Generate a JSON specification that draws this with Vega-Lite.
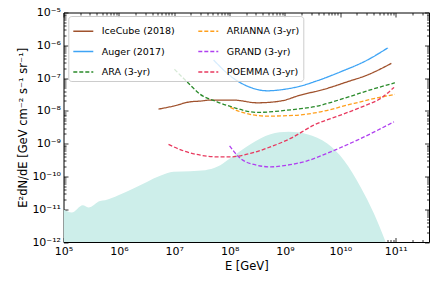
{
  "$schema": "https://vega.github.io/schema/vega-lite/v6.json",
  "width": 365.5,
  "height": 229.5,
  "autosize": {"type": "none"},
  "padding": {"left": 63.5, "top": 12.5, "right": 7, "bottom": 42},
  "config": {
    "font": "DejaVu Sans",
    "view": {"stroke": "black", "strokeWidth": 1},
    "axis": {"domain": false, "grid": false, "tickColor": "black", "tickWidth": 0.8, "labelColor": "black", "labelFontSize": 11, "labelFont": "DejaVu Sans", "titleFont": "DejaVu Sans", "titleFontSize": 11.5, "titleFontWeight": "normal", "titleColor": "black", "labelOverlap": false, "labelFlush": false, "labelBound": false},
    "legend": {"orient": "none", "legendX": 4.8, "legendY": 3.5, "columns": 2, "symbolType": "stroke", "symbolSize": 400, "symbolStrokeWidth": 1.5, "labelFontSize": 9.5, "labelFont": "DejaVu Sans", "labelColor": "black", "columnPadding": 20, "rowPadding": 4.5, "padding": 4, "strokeColor": "#cccccc", "fillColor": "rgba(255,255,255,0.8)", "cornerRadius": 3, "labelOffset": 7.5, "labelLimit": 300}
  },
  "datasets": {
    "sky": [
      {"E": 1e5, "flux": 9.79e-12},
      {"E": 1.41e5, "flux": 7.92e-12},
      {"E": 2.23e5, "flux": 1.32e-11},
      {"E": 2.81e5, "flux": 1.13e-11},
      {"E": 4.58e5, "flux": 1.79e-11},
      {"E": 5.64e5, "flux": 1.88e-11},
      {"E": 9.82e5, "flux": 2.67e-11},
      {"E": 1.83e6, "flux": 4.29e-11},
      {"E": 3.21e6, "flux": 6.82e-11},
      {"E": 5.58e6, "flux": 1.04e-10},
      {"E": 9.70e6, "flux": 1.38e-10},
      {"E": 1.95e7, "flux": 1.45e-10},
      {"E": 3.64e7, "flux": 1.55e-10},
      {"E": 5.93e7, "flux": 1.96e-10},
      {"E": 1.03e8, "flux": 3.61e-10},
      {"E": 2.38e8, "flux": 9.66e-10},
      {"E": 5.47e8, "flux": 1.95e-9},
      {"E": 1.17e9, "flux": 2.29e-9},
      {"E": 2.52e9, "flux": 1.95e-9},
      {"E": 5.81e9, "flux": 1.01e-9},
      {"E": 1.16e10, "flux": 3.13e-10},
      {"E": 2.32e10, "flux": 4.80e-11},
      {"E": 4.05e10, "flux": 7.40e-12},
      {"E": 6.59e10, "flux": 1e-12}
    ],
    "curves": [
      {"detector": "IceCube (2018)", "E": 5.20e6, "flux": 1.13e-8},
      {"detector": "IceCube (2018)", "E": 9.70e6, "flux": 1.40e-8},
      {"detector": "IceCube (2018)", "E": 1.95e7, "flux": 1.89e-8},
      {"detector": "IceCube (2018)", "E": 2.96e7, "flux": 1.99e-8},
      {"detector": "IceCube (2018)", "E": 4.49e7, "flux": 2.13e-8},
      {"detector": "IceCube (2018)", "E": 6.81e7, "flux": 2.13e-8},
      {"detector": "IceCube (2018)", "E": 1.18e8, "flux": 2.13e-8},
      {"detector": "IceCube (2018)", "E": 3.14e8, "flux": 1.76e-8},
      {"detector": "IceCube (2018)", "E": 8.30e8, "flux": 1.99e-8},
      {"detector": "IceCube (2018)", "E": 1.91e9, "flux": 3.03e-8},
      {"detector": "IceCube (2018)", "E": 5.05e9, "flux": 4.52e-8},
      {"detector": "IceCube (2018)", "E": 1.34e10, "flux": 7.71e-8},
      {"detector": "IceCube (2018)", "E": 3.08e10, "flux": 1.24e-7},
      {"detector": "IceCube (2018)", "E": 8.36e10, "flux": 2.81e-7},
      {"detector": "Auger (2017)", "E": 5.14e7, "flux": 3.55e-7},
      {"detector": "Auger (2017)", "E": 1.18e8, "flux": 9.79e-8},
      {"detector": "Auger (2017)", "E": 2.38e8, "flux": 5.20e-8},
      {"detector": "Auger (2017)", "E": 4.76e8, "flux": 4.09e-8},
      {"detector": "Auger (2017)", "E": 9.51e8, "flux": 4.52e-8},
      {"detector": "Auger (2017)", "E": 1.91e9, "flux": 5.70e-8},
      {"detector": "Auger (2017)", "E": 3.83e9, "flux": 8.28e-8},
      {"detector": "Auger (2017)", "E": 1.02e10, "flux": 1.56e-7},
      {"detector": "Auger (2017)", "E": 3.08e10, "flux": 3.55e-7},
      {"detector": "Auger (2017)", "E": 7.26e10, "flux": 8.41e-7},
      {"detector": "ARA (3-yr)", "E": 1.01e7, "flux": 1.85e-7},
      {"detector": "ARA (3-yr)", "E": 1.70e7, "flux": 7.71e-8},
      {"detector": "ARA (3-yr)", "E": 2.96e7, "flux": 3.18e-8},
      {"detector": "ARA (3-yr)", "E": 5.93e7, "flux": 1.89e-8},
      {"detector": "ARA (3-yr)", "E": 1.18e8, "flux": 1.27e-8},
      {"detector": "ARA (3-yr)", "E": 2.38e8, "flux": 9.35e-9},
      {"detector": "ARA (3-yr)", "E": 3.14e8, "flux": 8.97e-9},
      {"detector": "ARA (3-yr)", "E": 1.10e9, "flux": 1.05e-8},
      {"detector": "ARA (3-yr)", "E": 3.83e9, "flux": 1.40e-8},
      {"detector": "ARA (3-yr)", "E": 1.16e10, "flux": 2.40e-8},
      {"detector": "ARA (3-yr)", "E": 3.08e10, "flux": 4.09e-8},
      {"detector": "ARA (3-yr)", "E": 9.70e10, "flux": 7.18e-8},
      {"detector": "ARIANNA (3-yr)", "E": 1.03e8, "flux": 1.27e-8},
      {"detector": "ARIANNA (3-yr)", "E": 1.57e8, "flux": 9.35e-9},
      {"detector": "ARIANNA (3-yr)", "E": 4.76e8, "flux": 6.92e-9},
      {"detector": "ARIANNA (3-yr)", "E": 1.44e9, "flux": 7.26e-9},
      {"detector": "ARIANNA (3-yr)", "E": 4.40e9, "flux": 9.35e-9},
      {"detector": "ARIANNA (3-yr)", "E": 1.34e10, "flux": 1.50e-8},
      {"detector": "ARIANNA (3-yr)", "E": 3.52e10, "flux": 2.24e-8},
      {"detector": "ARIANNA (3-yr)", "E": 9.70e10, "flux": 3.18e-8},
      {"detector": "GRAND (3-yr)", "E": 1.00e8, "flux": 8.57e-10},
      {"detector": "GRAND (3-yr)", "E": 1.57e8, "flux": 3.53e-10},
      {"detector": "GRAND (3-yr)", "E": 2.72e8, "flux": 2.32e-10},
      {"detector": "GRAND (3-yr)", "E": 5.47e8, "flux": 1.96e-10},
      {"detector": "GRAND (3-yr)", "E": 1.10e9, "flux": 2.21e-10},
      {"detector": "GRAND (3-yr)", "E": 2.52e9, "flux": 2.99e-10},
      {"detector": "GRAND (3-yr)", "E": 6.67e9, "flux": 5.62e-10},
      {"detector": "GRAND (3-yr)", "E": 2.03e10, "flux": 1.28e-9},
      {"detector": "GRAND (3-yr)", "E": 9.31e10, "flux": 4.63e-9},
      {"detector": "POEMMA (3-yr)", "E": 7.89e6, "flux": 9.46e-10},
      {"detector": "POEMMA (3-yr)", "E": 1.47e7, "flux": 6.03e-10},
      {"detector": "POEMMA (3-yr)", "E": 2.96e7, "flux": 4.46e-10},
      {"detector": "POEMMA (3-yr)", "E": 5.93e7, "flux": 3.95e-10},
      {"detector": "POEMMA (3-yr)", "E": 1.03e8, "flux": 3.95e-10},
      {"detector": "POEMMA (3-yr)", "E": 2.38e8, "flux": 5.02e-10},
      {"detector": "POEMMA (3-yr)", "E": 5.47e8, "flux": 7.98e-10},
      {"detector": "POEMMA (3-yr)", "E": 1.26e9, "flux": 1.44e-9},
      {"detector": "POEMMA (3-yr)", "E": 3.32e9, "flux": 3.67e-9},
      {"detector": "POEMMA (3-yr)", "E": 1.01e10, "flux": 7.41e-9},
      {"detector": "POEMMA (3-yr)", "E": 2.67e10, "flux": 1.40e-8},
      {"detector": "POEMMA (3-yr)", "E": 5.36e10, "flux": 2.40e-8},
      {"detector": "POEMMA (3-yr)", "E": 9.31e10, "flux": 5.20e-8}
    ]
  },
  "layer": [
    {
      "data": {"name": "sky"},
      "mark": {"type": "area", "color": "#cdeeea", "opacity": 1, "interpolate": "monotone", "clip": true},
      "encoding": {
        "x": {"field": "E", "type": "quantitative", "scale": {"type": "log", "domain": [1e5, 4e11], "nice": false},
          "axis": {"orient": "bottom", "title": "E [GeV]", "titlePadding": 2,
            "values": [1e5,2e5,3e5,4e5,5e5,6e5,7e5,8e5,9e5,1e6,2e6,3e6,4e6,5e6,6e6,7e6,8e6,9e6,1e7,2e7,3e7,4e7,5e7,6e7,7e7,8e7,9e7,1e8,2e8,3e8,4e8,5e8,6e8,7e8,8e8,9e8,1e9,2e9,3e9,4e9,5e9,6e9,7e9,8e9,9e9,1e10,2e10,3e10,4e10,5e10,6e10,7e10,8e10,9e10,1e11,2e11,3e11],
            "labelExpr": "abs(log(datum.value)/LN10 - round(log(datum.value)/LN10)) < 0.01 ? '10' + (round(log(datum.value)/LN10) < 10 ? ['⁰','¹','²','³','⁴','⁵','⁶','⁷','⁸','⁹'][round(log(datum.value)/LN10)] : '¹' + ['⁰','¹','²','³','⁴','⁵','⁶','⁷','⁸','⁹'][round(log(datum.value)/LN10) - 10]) : ''",
            "tickSize": {"condition": {"test": "abs(log(datum.value)/LN10 - round(log(datum.value)/LN10)) < 0.01", "value": -4.5}, "value": -2.5},
            "labelPadding": 8}},
        "y": {"field": "flux", "type": "quantitative", "scale": {"type": "log", "domain": [1e-12, 1e-5], "nice": false},
          "axis": {"orient": "left", "title": "E²dN/dE [GeV cm⁻² s⁻¹ sr⁻¹]", "titlePadding": 3,
            "values": [1e-12,2e-12,3e-12,4e-12,5e-12,6e-12,7e-12,8e-12,9e-12,1e-11,2e-11,3e-11,4e-11,5e-11,6e-11,7e-11,8e-11,9e-11,1e-10,2e-10,3e-10,4e-10,5e-10,6e-10,7e-10,8e-10,9e-10,1e-9,2e-9,3e-9,4e-9,5e-9,6e-9,7e-9,8e-9,9e-9,1e-8,2e-8,3e-8,4e-8,5e-8,6e-8,7e-8,8e-8,9e-8,1e-7,2e-7,3e-7,4e-7,5e-7,6e-7,7e-7,8e-7,9e-7,1e-6,2e-6,3e-6,4e-6,5e-6,6e-6,7e-6,8e-6,9e-6,1e-5],
            "labelExpr": "abs(log(datum.value)/LN10 - round(log(datum.value)/LN10)) < 0.01 ? '10⁻' + (-round(log(datum.value)/LN10) < 10 ? ['⁰','¹','²','³','⁴','⁵','⁶','⁷','⁸','⁹'][-round(log(datum.value)/LN10)] : '¹' + ['⁰','¹','²','³','⁴','⁵','⁶','⁷','⁸','⁹'][-round(log(datum.value)/LN10) - 10]) : ''",
            "tickSize": {"condition": {"test": "abs(log(datum.value)/LN10 - round(log(datum.value)/LN10)) < 0.01", "value": -4.5}, "value": -2.5},
            "labelPadding": 7.5}},
        "y2": {"datum": 1e-12}
      }
    },
    {
      "data": {"name": "curves"},
      "mark": {"type": "line", "strokeWidth": 1.3, "interpolate": "monotone", "clip": true},
      "encoding": {
        "x": {"field": "E", "type": "quantitative", "scale": {"type": "log", "domain": [1e5, 4e11], "nice": false},
          "axis": {"orient": "top", "title": null, "labels": false,
            "values": [1e5,2e5,3e5,4e5,5e5,6e5,7e5,8e5,9e5,1e6,2e6,3e6,4e6,5e6,6e6,7e6,8e6,9e6,1e7,2e7,3e7,4e7,5e7,6e7,7e7,8e7,9e7,1e8,2e8,3e8,4e8,5e8,6e8,7e8,8e8,9e8,1e9,2e9,3e9,4e9,5e9,6e9,7e9,8e9,9e9,1e10,2e10,3e10,4e10,5e10,6e10,7e10,8e10,9e10,1e11,2e11,3e11],
            "tickSize": {"condition": {"test": "abs(log(datum.value)/LN10 - round(log(datum.value)/LN10)) < 0.01", "value": -4.5}, "value": -2.5}}},
        "y": {"field": "flux", "type": "quantitative", "scale": {"type": "log", "domain": [1e-12, 1e-5], "nice": false},
          "axis": {"orient": "right", "title": null, "labels": false,
            "values": [1e-12,2e-12,3e-12,4e-12,5e-12,6e-12,7e-12,8e-12,9e-12,1e-11,2e-11,3e-11,4e-11,5e-11,6e-11,7e-11,8e-11,9e-11,1e-10,2e-10,3e-10,4e-10,5e-10,6e-10,7e-10,8e-10,9e-10,1e-9,2e-9,3e-9,4e-9,5e-9,6e-9,7e-9,8e-9,9e-9,1e-8,2e-8,3e-8,4e-8,5e-8,6e-8,7e-8,8e-8,9e-8,1e-7,2e-7,3e-7,4e-7,5e-7,6e-7,7e-7,8e-7,9e-7,1e-6,2e-6,3e-6,4e-6,5e-6,6e-6,7e-6,8e-6,9e-6,1e-5],
            "tickSize": {"condition": {"test": "abs(log(datum.value)/LN10 - round(log(datum.value)/LN10)) < 0.01", "value": -4.5}, "value": -2.5}}},
        "color": {"field": "detector", "type": "nominal",
          "scale": {"domain": ["IceCube (2018)", "Auger (2017)", "ARA (3-yr)", "ARIANNA (3-yr)", "GRAND (3-yr)", "POEMMA (3-yr)"],
                    "range": ["#a0522d", "#3ea4f5", "#2a8a2a", "#ff9f1c", "#b040f0", "#e83a5f"]},
          "legend": {"title": null}},
        "strokeDash": {"field": "detector", "type": "nominal",
          "scale": {"domain": ["IceCube (2018)", "Auger (2017)", "ARA (3-yr)", "ARIANNA (3-yr)", "GRAND (3-yr)", "POEMMA (3-yr)"],
                    "range": [[1, 0], [1, 0], [4, 2], [4, 2], [4, 2], [4, 2]]},
          "legend": {"title": null}}
      }
    }
  ],
  "resolve": {"axis": {"x": "independent", "y": "independent"}}
}
